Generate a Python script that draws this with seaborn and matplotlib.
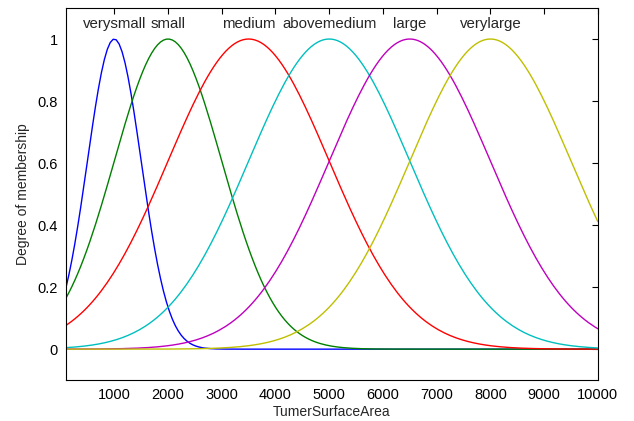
import numpy as np
import pandas as pd
import matplotlib
matplotlib.use("Agg")
import matplotlib.pyplot as plt
import seaborn as sns

# Membership function parameters (Gaussian MFs)
labels = ["verysmall", "small", "medium", "abovemedium", "large", "verylarge"]
centers = [1000, 2000, 3500, 5000, 6500, 8000]
sigmas = [500, 1000, 1500, 1500, 1500, 1500]
colors = ["#0000ff", "#008000", "#ff0000", "#00bfbf", "#bf00bf", "#bfbf00"]
x_range = [100, 10000]
xticks = [1000, 2000, 3000, 4000, 5000, 6000, 7000, 8000, 9000, 10000]
yticks = [0, 0.2, 0.4, 0.6, 0.8, 1]

x = np.linspace(x_range[0], x_range[1], 181)
frames = []
for lab, c, s in zip(labels, centers, sigmas):
    frames.append(pd.DataFrame({"x": x, "mu": np.exp(-(x - c) ** 2 / (2 * s ** 2)), "mf": lab}))
df = pd.concat(frames, ignore_index=True)

sns.set_style("white")
plt.rcParams["font.family"] = ["Liberation Sans", "DejaVu Sans"]

fig = plt.figure(figsize=(6.34, 4.21), dpi=100)
ax = fig.add_axes([0.104, 0.097, 0.839, 0.884])
sns.lineplot(data=df, x="x", y="mu", hue="mf", palette=dict(zip(labels, colors)),
             legend=False, linewidth=1.0, ax=ax)

for lab, c in zip(labels, centers):
    ax.text(c, 1.05, lab, ha="center", va="center", fontsize=10.8)

ax.set_xlim(x_range)
ax.set_ylim(-0.1, 1.1)
ax.set_xticks(xticks)
ax.set_xticklabels([str(t) for t in xticks])
ax.set_yticks(yticks)
ax.set_yticklabels(["0", "0.2", "0.4", "0.6", "0.8", "1"])
ax.tick_params(direction="in", length=4, width=0.8, top=True, right=True,
               labelsize=10.5, colors="black", pad=6)
for sp in ax.spines.values():
    sp.set_visible(True)
    sp.set_color("black")
    sp.set_linewidth(0.8)
ax.set_xlabel("TumerSurfaceArea", fontsize=10, labelpad=2)
ax.set_ylabel("Degree of membership", fontsize=10, labelpad=5)

fig.savefig("out.png", dpi=100, facecolor="white")
